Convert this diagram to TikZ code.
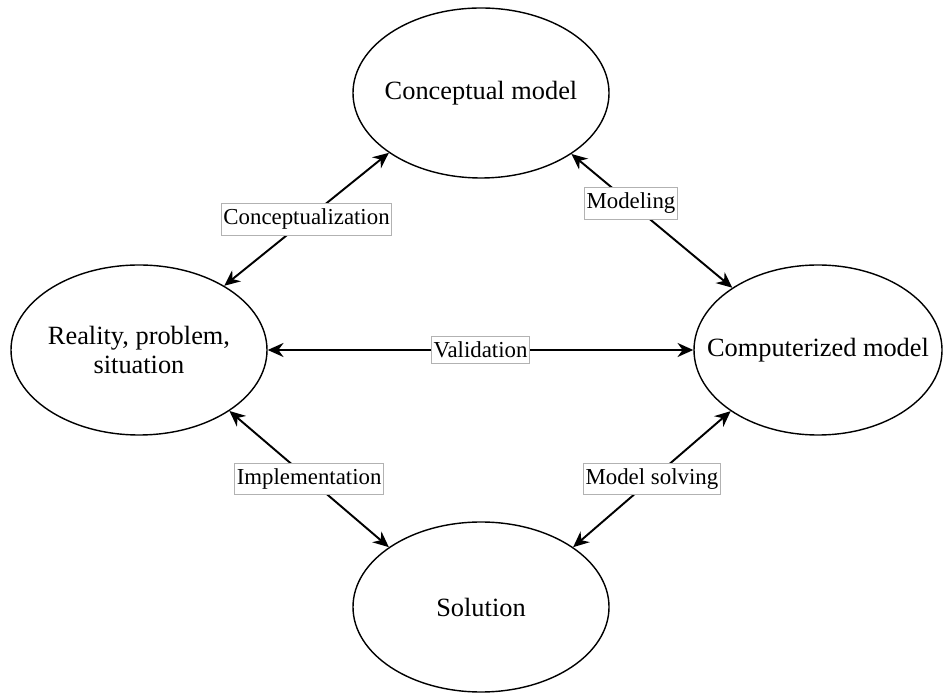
\documentclass[tikz,border=0pt]{standalone}
\usepackage{fontspec}
\setmainfont{Liberation Serif}
\usetikzlibrary{arrows.meta,shapes.geometric}

\begin{document}
\begin{tikzpicture}[
        stage/.style={draw, thick, ellipse, minimum width=5.12cm, minimum height=3.4cm, inner sep=-20pt, align=center, font=\fontsize{15}{17}\selectfont},
        link/.style={{Stealth[length=9pt,width=8pt]}-{Stealth[length=9pt,width=8pt]}, line width=1.1pt},
        tag/.style={fill=white, draw=gray!60, line width=0.4pt, inner xsep=1.2pt, inner ysep=3pt, font=\fontsize{13}{15}\selectfont}
    ]
        \useasboundingbox (0,0) rectangle (18.86,13.86);

        % The four stages
        \node[stage] (concept) at (9.62,12.0) {Conceptual model};
        \node[stage] (reality) at (2.78,6.86) {Reality, problem,\\situation};
        \node[stage, minimum width=4.96cm] (computer) at (16.36,6.86) {Computerized model};
        \node[stage] (solution) at (9.62,1.72) {Solution};

        % Links between the stages
        \draw[link] (reality.37.7) -- node[tag] {Conceptualization} (concept.213.7);
        \draw[link] (concept.326) -- node[tag, pos=0.37] {Modeling} (computer.144.4);
        \draw[link] (reality.east) -- node[tag] {Validation} (computer.west);
        \draw[link] (reality.326) -- node[tag] {Implementation} (solution.147);
        \draw[link] (computer.215) -- node[tag] {Model solving} (solution.33);
    \end{tikzpicture}
\end{document}
